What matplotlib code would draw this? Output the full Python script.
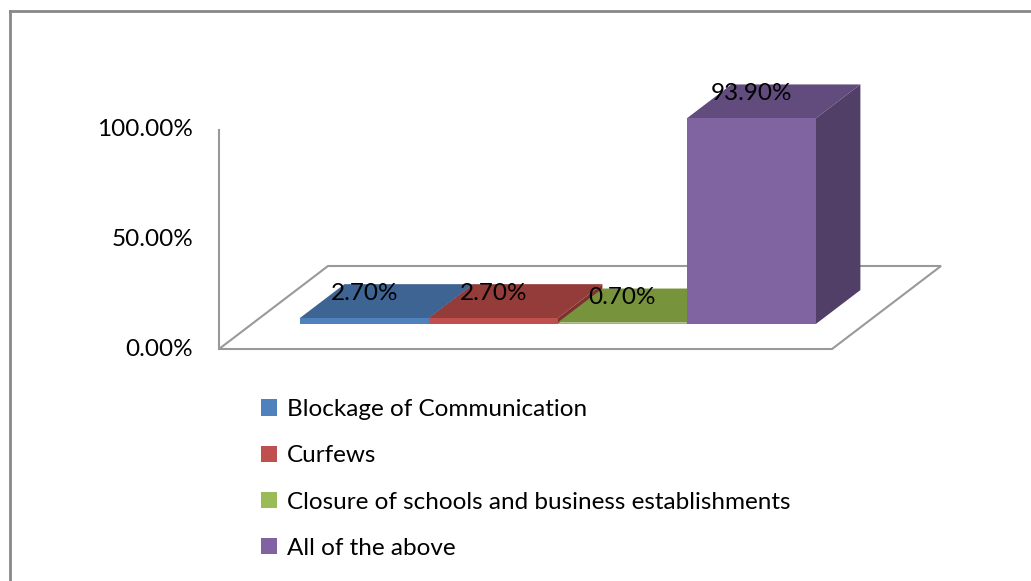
import matplotlib
matplotlib.use("Agg")
import matplotlib.pyplot as plt
from matplotlib.patches import Polygon, Patch
from matplotlib.lines import Line2D

# data
series = ["Blockage of Communication", "Curfews",
          "Closure of schools and business establishments", "All of the above"]
values = [2.7, 2.7, 0.7, 93.9]
labels = ["2.70%", "2.70%", "0.70%", "93.90%"]
yticks = [0, 50, 100]
ytick_labels = ["0.00%", "50.00%", "100.00%"]

front_colors = ["#4F81BD", "#C0504D", "#9BBB59", "#8064A2"]
top_colors = ["#3E6494", "#943C3A", "#77933C", "#614C7D"]
side_colors = ["#34557E", "#7D3230", "#637B32", "#513F68"]

# layout (pixels)
W, H = 1031, 581
PX_X = 129.0      # px per bar
PX_Y = 2.19       # px per percent
X0, Y0 = 267, 349  # pixel of x=0, y=0 (front plane)
DX = 109 / PX_X    # depth shift per depth unit, data units
DY = 83 / PX_Y
D_FRONT, D_BACK = 0.30, 0.71
FLOOR_L, FLOOR_R = -0.372, 4.38

plt.rcParams["font.family"] = ["Lato", "DejaVu Sans"]
FS = 17.5

fig = plt.figure(figsize=(W / 100, H / 100), dpi=100)
ax = fig.add_axes([0, 0, 1, 1])
ax.set_xlim(-X0 / PX_X, (W - X0) / PX_X)
ax.set_ylim(-(H - Y0) / PX_Y, Y0 / PX_Y)
ax.axis("off")


def proj(x, y, d):
    return (x + d * DX, y + d * DY)


# floor
floor = [proj(FLOOR_L, 0, 0), proj(FLOOR_R, 0, 0), proj(FLOOR_R, 0, 1), proj(FLOOR_L, 0, 1)]
ax.add_patch(Polygon(floor, closed=True, facecolor="white", edgecolor="#999999", lw=1.5, zorder=1))
# value axis wall line
ax.plot([FLOOR_L, FLOOR_L], [0, 100], color="#999999", lw=1.5, zorder=1)

for yv, yl in zip(yticks, ytick_labels):
    ax.text((193 - X0) / PX_X, yv, yl, ha="right", va="center", fontsize=FS, color="black")

# bars
for i, v in enumerate(values):
    x0 = i
    x1 = i + 1
    # top face
    top = [proj(x0, v, D_FRONT), proj(x1, v, D_FRONT), proj(x1, v, D_BACK), proj(x0, v, D_BACK)]
    ax.add_patch(Polygon(top, closed=True, facecolor=top_colors[i], edgecolor="none", zorder=2 + i))
    # right side face
    side = [proj(x1, 0, D_FRONT), proj(x1, 0, D_BACK), proj(x1, v, D_BACK), proj(x1, v, D_FRONT)]
    ax.add_patch(Polygon(side, closed=True, facecolor=side_colors[i], edgecolor="none", zorder=2 + i))
    # front face
    ax.bar(x0 + D_FRONT * DX, v, width=1, bottom=D_FRONT * DY, align="edge",
           color=front_colors[i], edgecolor="none", zorder=2 + i)

for i, v in enumerate(values):
    lx, ly = proj(i + 0.5, v, D_FRONT)
    ax.text(lx, ly + 0.3 * DY, labels[i], ha="center", va="center", fontsize=FS,
            color="black", zorder=10)

# outer chart border (top and left only visible)
fig.add_artist(Line2D([9.5 / W, 9.5 / W], [0, 1 - 10.5 / H], transform=fig.transFigure,
                      color="#888888", lw=2))
fig.add_artist(Line2D([9.5 / W, 1], [1 - 10.5 / H, 1 - 10.5 / H], transform=fig.transFigure,
                      color="#888888", lw=2))

handles = [Patch(facecolor=c, edgecolor="none") for c in front_colors]
fig.legend(handles, series, loc="upper left", bbox_to_anchor=(261 / W, 1 - 399 / H),
           frameon=False, fontsize=FS, handlelength=0.65, handleheight=0.65,
           handletextpad=0.4, labelspacing=1.04, borderaxespad=0, borderpad=0)

fig.savefig("out.png", dpi=100)
